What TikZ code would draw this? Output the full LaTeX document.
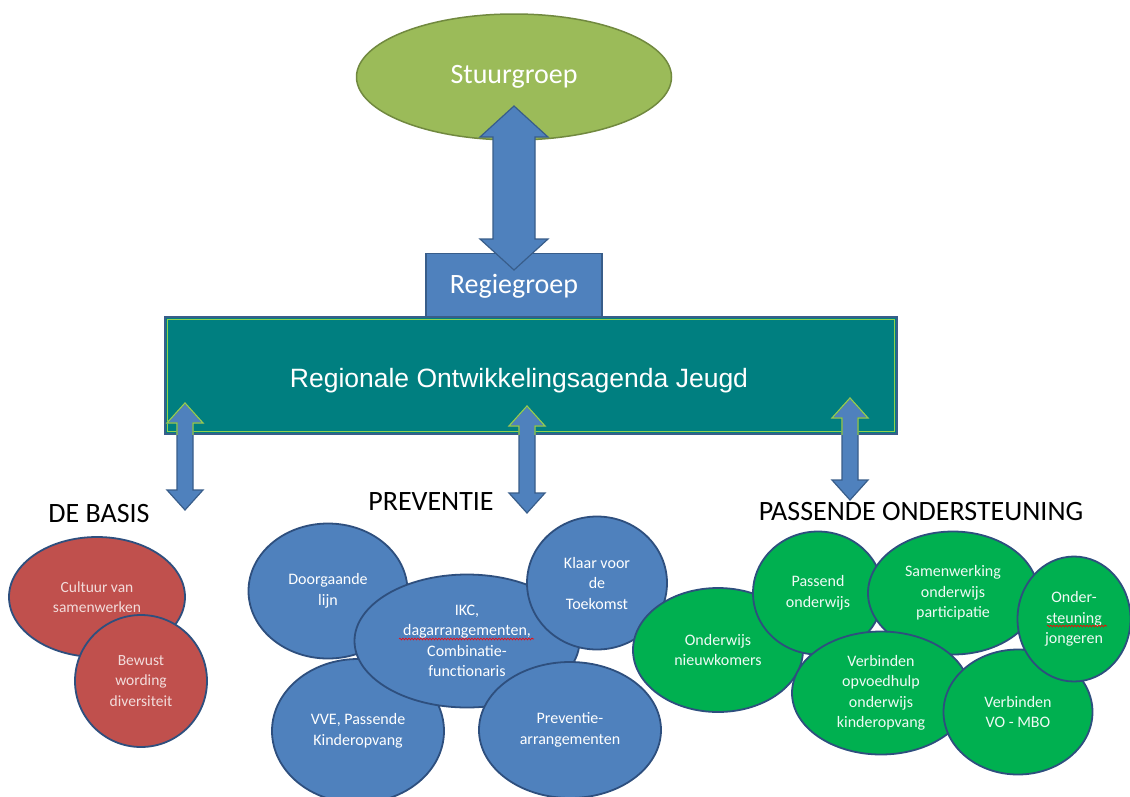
\documentclass[tikz,border=0pt]{standalone}
\usepackage{fontspec}
\setmainfont{Carlito}
\newfontfamily\arialfont{Liberation Sans}
\usepackage{xcolor}
\usepackage{tikz}
\usetikzlibrary{shapes,positioning,calc,decorations.pathmorphing}

\definecolor{stuurgreen}{HTML}{9BBB59}
\definecolor{stuurline}{HTML}{71893F}
\definecolor{regieblue}{HTML}{4F81BD}
\definecolor{regieline}{HTML}{385D8A}
\definecolor{agendateal}{HTML}{007F80}
\definecolor{limeline}{HTML}{92D050}
\definecolor{basisred}{HTML}{C0504D}
\definecolor{basistext}{HTML}{F2DCDB}
\definecolor{passgreen}{HTML}{00B050}
\definecolor{bubbleline}{HTML}{2E4F7E}

% fat double arrow: top tip, bottom tip, shaft half width, head half width, head length
\newcommand{\fatarrow}[6][]{%
  \path[#1] (#2) -- ++(#5,#6) -- ++(#4-#5,0) -- ($(#3)+(#4,-#6)$) -- ++(#5-#4,0)
    -- (#3) -- ++(-#5,-#6) -- ++(#5-#4,0) -- ($(#2)+(-#4,#6)$) -- ++(#4-#5,0) -- cycle;}

\begin{document}
\begin{tikzpicture}[
    x=1pt, y=-1pt,
    node distance=112pt,
    groep/.style={text=white, font=\fontsize{28}{32}\selectfont},
    heading/.style={font=\fontsize{28}{32}\selectfont, text=black},
    bubble/.style={ellipse, draw=bubbleline, line width=1.8pt, inner sep=0pt, align=center,
        font=\fontsize{16}{20.5}\selectfont},
    basis/.style={bubble, fill=basisred, text=basistext, font=\fontsize{15.5}{20.5}\selectfont},
    prev/.style={bubble, fill=regieblue, text=white},
    pass/.style={bubble, fill=passgreen, text=white!94!passgreen},
    fat/.style={fill=regieblue, draw=regieline, line width=1.2pt},
    spellmark/.style={draw=red, line width=0.6pt, decorate,
        decoration={snake, amplitude=0.9pt, segment length=3pt}}
]
    \useasboundingbox (0,0) rectangle (1130,796);
    \fill[white] (0,0) rectangle (1130,796);
    \clip (0,0) rectangle (1130,796);

    \node[groep, ellipse, fill=stuurgreen, draw=stuurline, line width=1.5pt,
        minimum width=315pt, minimum height=126pt] (stuur) at (514,77) {Stuurgroep};
    \node[groep, rectangle, fill=regieblue, draw=regieline, line width=1.5pt,
        minimum width=176pt, minimum height=66pt, below=of stuur] (regie) {Regiegroep};
    \node[rectangle, fill=agendateal, draw=regieline, line width=1.5pt, text=white,
        font=\arialfont\fontsize{26.5}{30}\selectfont, text height=29pt,
        minimum width=732pt, minimum height=117pt] (agenda) at (531,375.5)
        {Regionale Ontwikkelingsagenda Jeugd\hspace*{24pt}};
    \draw[limeline, line width=1.2pt] ([shift={(3,-3)}]agenda.south west)
        rectangle ([shift={(-3,3)}]agenda.north east);

    \coordinate (stuurTip) at (514,106);
    \coordinate (regieTip) at (514,270);
    \coordinate (basisTop) at (185,403);
    \coordinate (basisTip) at (185,510);
    \coordinate (prevTop) at (527,406);
    \coordinate (prevTip) at (527,513);
    \coordinate (passTop) at (850,398);
    \coordinate (passTip) at (850,500);

    \fatarrow[fat]{stuurTip}{regieTip}{21}{34}{31}
    \fatarrow[fat]{basisTop}{basisTip}{8}{18}{20}
    \fatarrow[fat]{prevTop}{prevTip}{8}{18}{20}
    \fatarrow[fat]{passTop}{passTip}{8}{18}{20}
    \begin{scope}
        \clip (agenda.north west) rectangle (agenda.south east);
        \fatarrow[draw=limeline, line width=1.2pt]{basisTop}{basisTip}{8}{18}{20}
        \fatarrow[draw=limeline, line width=1.2pt]{prevTop}{prevTip}{8}{18}{20}
        \fatarrow[draw=limeline, line width=1.2pt]{passTop}{passTip}{8}{18}{20}
    \end{scope}

    \node[heading] (basisLabel) at (99,514) {DE BASIS};
    \node[heading] (prevLabel) at (431,502) {PREVENTIE};
    \node[heading] (passLabel) at (921,512) {PASSENDE ONDERSTEUNING};

    \node[basis, minimum width=176pt, minimum height=120pt] (cultuur) at (97,597) {Cultuur van\\samenwerken};
    \node[basis, minimum width=132pt, minimum height=132pt] (bewust) at (141,681) {Bewust\\wording\\diversiteit};

    \node[prev, minimum width=159pt, minimum height=135pt] (doorgaande) at (328,591) {Doorgaande\\lijn};
    \node[prev, minimum width=172pt, minimum height=144pt] (vve) at (358,731) {VVE, Passende\\Kinderopvang};
    \node[prev, minimum width=225pt, minimum height=133pt] (ikc) at (467,641) {IKC,\\dagarrangementen,\\Combinatie-\\functionaris};
    \node[prev, minimum width=140pt, minimum height=133pt] (klaar) at (597,583) {Klaar voor\\de\\Toekomst};
    \node[prev, minimum width=182pt, minimum height=136pt] (preventie) at (570,730) {Preventie-\\arrangementen};

    \node[pass, minimum width=170pt, minimum height=124pt] (nieuwkomers) at (718,650) {Onderwijs\\nieuwkomers};
    \node[pass, minimum width=130pt, minimum height=123pt] (passend) at (818,593) {Passend\\onderwijs};
    \node[pass, minimum width=170pt, minimum height=123pt] (samenwerking) at (953,593) {Samenwerking\\onderwijs\\participatie};
    \node[pass, minimum width=178pt, minimum height=123pt] (opvoedhulp) at (881,693) {Verbinden\\opvoedhulp\\onderwijs\\kinderopvang};
    \node[pass, minimum width=149pt, minimum height=125pt] (vombo) at (1018,712) {Verbinden\\VO - MBO};
    \node[pass, minimum width=113pt, minimum height=125pt] (jongeren) at (1074,619) {Onder-\\steuning\\jongeren};

    \draw[spellmark] ([shift={(-68,-2)}]ikc.center) -- ++(135,0);
    \draw[spellmark] ([shift={(-27,7)}]jongeren.center) -- ++(60,0);
\end{tikzpicture}
\end{document}
